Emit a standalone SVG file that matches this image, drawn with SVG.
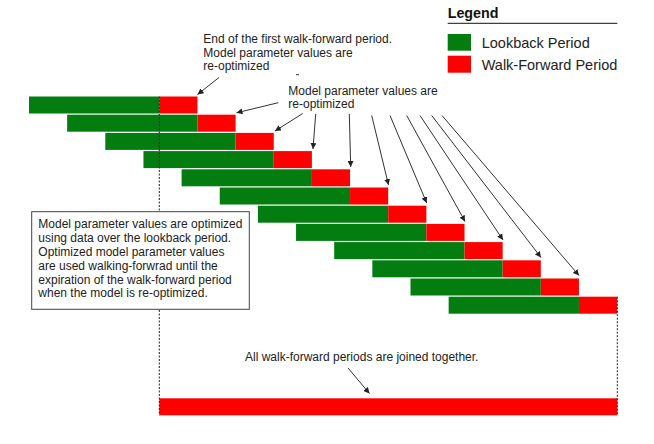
<svg xmlns="http://www.w3.org/2000/svg" width="654" height="444" viewBox="0 0 654 444">
<style>
  text { font-family: "Liberation Sans", Arial, sans-serif; font-size: 12px; fill: #222; }
  .g { fill: #037d10; }
  .r { fill: #ff0000; }
  .dash { stroke: #222; stroke-width: 1; stroke-dasharray: 2 1.5; fill: none; }
  .arr { stroke: #333; stroke-width: 1; fill: none; marker-end: url(#ah); }
</style>
<defs>
  <marker id="ah" markerUnits="userSpaceOnUse" markerWidth="7" markerHeight="6" refX="6" refY="3" orient="auto">
    <path d="M0,0 L6,3 L0,6 z" fill="#222"/>
  </marker>
</defs>
<rect width="654" height="444" fill="#fff"/>

<g id="legend">
  <text x="447.7" y="18.3" style="font-weight:bold;font-size:14.3px;fill:#111">Legend</text>
  <line x1="447.7" y1="23.3" x2="617.3" y2="23.3" stroke="#111" stroke-width="1"/>
  <rect class="g" x="447.7" y="34" width="23.3" height="16.7"/>
  <text x="481.7" y="48.3" style="font-size:14.5px">Lookback Period</text>
  <rect class="r" x="447.7" y="55.7" width="23.3" height="17"/>
  <text x="481.7" y="70" style="font-size:14.5px">Walk-Forward Period</text>
</g>

<g id="bars">
  <g id="row1"><rect class="g" x="29" y="96.5" width="130.3" height="17"/><rect class="r" x="159.3" y="96.5" width="38.15" height="17"/></g>
  <g id="row2"><rect class="g" x="67.15" y="114.7" width="130.3" height="17"/><rect class="r" x="197.45" y="114.7" width="38.15" height="17"/></g>
  <g id="row3"><rect class="g" x="105.3" y="132.9" width="130.3" height="17"/><rect class="r" x="235.6" y="132.9" width="38.15" height="17"/></g>
  <g id="row4"><rect class="g" x="143.45" y="151.1" width="130.3" height="17"/><rect class="r" x="273.75" y="151.1" width="38.15" height="17"/></g>
  <g id="row5"><rect class="g" x="181.6" y="169.3" width="130.3" height="17"/><rect class="r" x="311.9" y="169.3" width="38.15" height="17"/></g>
  <g id="row6"><rect class="g" x="219.75" y="187.5" width="130.3" height="17"/><rect class="r" x="350.05" y="187.5" width="38.15" height="17"/></g>
  <g id="row7"><rect class="g" x="257.9" y="205.7" width="130.3" height="17"/><rect class="r" x="388.2" y="205.7" width="38.15" height="17"/></g>
  <g id="row8"><rect class="g" x="296.05" y="223.9" width="130.3" height="17"/><rect class="r" x="426.35" y="223.9" width="38.15" height="17"/></g>
  <g id="row9"><rect class="g" x="334.2" y="242.1" width="130.3" height="17"/><rect class="r" x="464.5" y="242.1" width="38.15" height="17"/></g>
  <g id="row10"><rect class="g" x="372.35" y="260.3" width="130.3" height="17"/><rect class="r" x="502.65" y="260.3" width="38.15" height="17"/></g>
  <g id="row11"><rect class="g" x="410.5" y="278.5" width="130.3" height="17"/><rect class="r" x="540.8" y="278.5" width="38.15" height="17"/></g>
  <g id="row12"><rect class="g" x="448.65" y="296.7" width="130.3" height="17"/><rect class="r" x="578.95" y="296.7" width="38.15" height="17"/></g>
</g>

<g id="joined">
  <rect class="r" x="159.3" y="398.3" width="458" height="17"/>
</g>

<g id="guides">
  <line class="dash" x1="159.3" y1="96.5" x2="159.3" y2="415.3"/>
  <line class="dash" x1="617.3" y1="296.7" x2="617.3" y2="415.3"/>
</g>

<g id="note-box">
  <rect x="31.7" y="211.7" width="217.6" height="97.6" fill="#fff" stroke="#444" stroke-width="1"/>
  <text x="38.3" y="228.3">Model parameter values are optimized</text>
  <text x="38.3" y="242.1">using data over the lookback period.</text>
  <text x="38.3" y="255.9">Optimized model parameter values</text>
  <text x="38.3" y="269.7">are used walking-forwrad until the</text>
  <text x="38.3" y="283.5">expiration of the walk-forward period</text>
  <text x="38.3" y="297.3">when the model is re-optimized.</text>
</g>

<g id="label-first">
  <text x="203.3" y="43.3">End of the first walk-forward period.</text>
  <text x="203.3" y="56.7">Model parameter values are</text>
  <text x="203.3" y="70">re-optimized</text>
</g>

<g id="label-reopt">
  <text x="288.3" y="95">Model parameter values are</text>
  <text x="288.3" y="108">re-optimized</text>
</g>

<g id="label-joined">
  <text x="245" y="360.5">All walk-forward periods are joined together.</text>
</g>

<g id="connectors">
  <line x1="296" y1="74.7" x2="299" y2="74.7" stroke="#333" stroke-width="1"/>
  <line class="arr" x1="219" y1="77.5" x2="197.5" y2="94.5"/>
  <line class="arr" x1="278.3" y1="102.7" x2="236.5" y2="112.8"/>
  <line class="arr" x1="302.7" y1="113.5" x2="275" y2="131"/>
  <line class="arr" x1="315.7" y1="114" x2="313" y2="149"/>
  <line class="arr" x1="349.3" y1="114" x2="350.7" y2="167"/>
  <line class="arr" x1="371.7" y1="115.5" x2="388.5" y2="185"/>
  <line class="arr" x1="390" y1="115.5" x2="426.7" y2="203"/>
  <line class="arr" x1="406.7" y1="115.5" x2="465" y2="221.5"/>
  <line class="arr" x1="420" y1="115.5" x2="503" y2="240"/>
  <line class="arr" x1="431.7" y1="115.5" x2="541" y2="257.5"/>
  <line class="arr" x1="442" y1="115.5" x2="579" y2="275.5"/>
  <line class="arr" x1="348" y1="368" x2="369.5" y2="393.5"/>
</g>
</svg>
